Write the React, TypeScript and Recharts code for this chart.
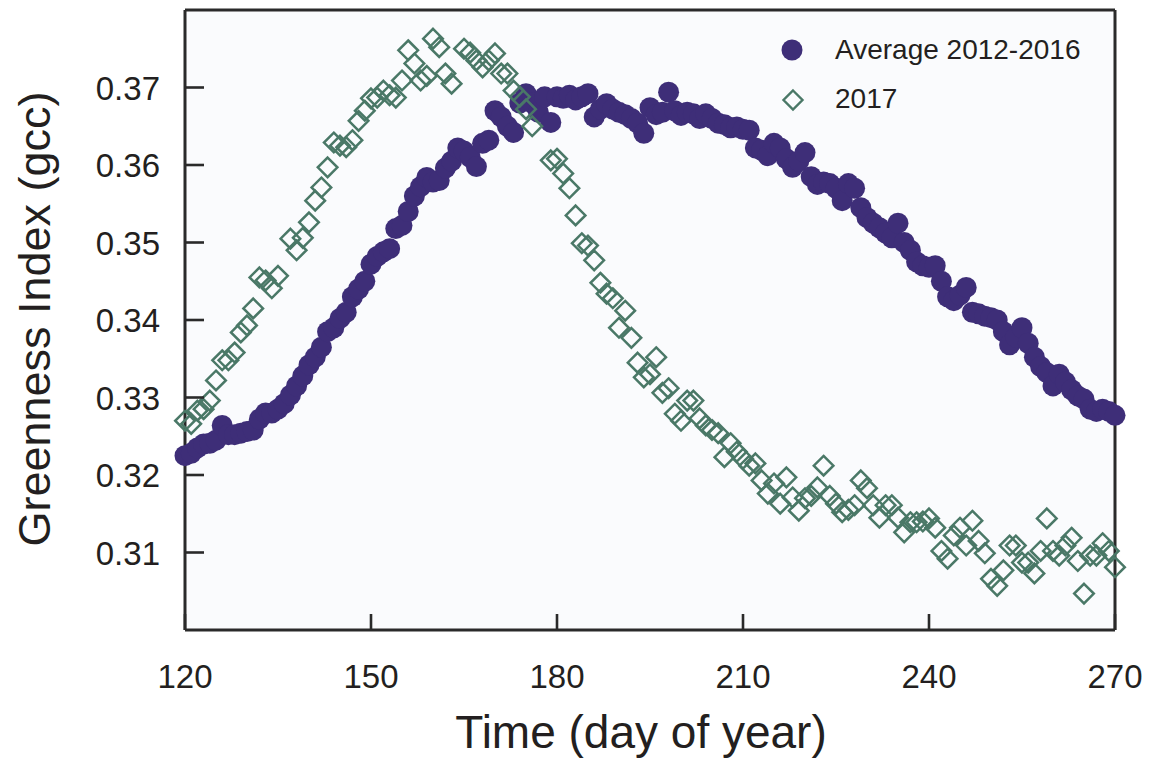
import React from 'react';
import { ScatterChart, Scatter, XAxis, YAxis, CartesianGrid } from 'recharts';

// Day of year for the 2012-2016 average series
const avgDays = [
  120, 121, 122, 123, 124, 125, 126, 127, 128, 129, 130, 131, 132, 133, 134, 135, 136, 137, 138, 139,
  140, 141, 142, 143, 144, 145, 146, 147, 148, 149, 150, 151, 152, 153, 154, 155, 156, 157, 158, 159,
  160, 161, 162, 163, 164, 165, 166, 167, 168, 169, 170, 171, 172, 173, 174, 175, 176, 177, 178, 179,
  180, 181, 182, 183, 184, 185, 186, 187, 188, 189, 190, 191, 192, 193, 194, 195, 196, 197, 198, 199,
  200, 201, 202, 203, 204, 205, 206, 207, 208, 209, 210, 211, 212, 213, 214, 215, 216, 217, 218, 219,
  220, 221, 222, 223, 224, 225, 226, 227, 228, 229, 230, 231, 232, 233, 234, 235, 236, 237, 238, 239,
  240, 241, 242, 243, 244, 245, 246, 247, 248, 249, 250, 251, 252, 253, 254, 255, 256, 257, 258, 259,
  260, 261, 262, 263, 264, 265, 266, 267, 268, 269, 270,
];

// Green chromatic coordinate, 2012-2016 average
const avgGcc = [
  0.3225, 0.3228, 0.3235, 0.324, 0.3241, 0.3245, 0.3264, 0.3252, 0.3252, 0.3254, 0.3256, 0.3258, 0.3272, 0.328, 0.328, 0.3285, 0.3292, 0.3303, 0.3315, 0.3328,
  0.3342, 0.3352, 0.3365, 0.3385, 0.339, 0.3402, 0.341, 0.343, 0.344, 0.345, 0.3472, 0.3482, 0.3488, 0.3492, 0.3518, 0.3522, 0.354, 0.356, 0.3572, 0.3584,
  0.3578, 0.358, 0.3596, 0.3605, 0.3622, 0.3618, 0.361, 0.3598, 0.3628, 0.3632, 0.367, 0.3662, 0.365, 0.3642, 0.368, 0.3692, 0.368, 0.3668, 0.3688, 0.3655,
  0.3688, 0.3686, 0.369, 0.3684, 0.3688, 0.3692, 0.3662, 0.3672, 0.3679, 0.3672, 0.3668, 0.3665, 0.366, 0.3654, 0.3641, 0.3674, 0.3665, 0.3668, 0.3694, 0.367,
  0.3664, 0.3668, 0.3666, 0.366, 0.3666, 0.366, 0.3654, 0.3652, 0.3648, 0.3649, 0.3646, 0.3645, 0.3622, 0.3619, 0.3612, 0.3628, 0.3622, 0.3608, 0.3597, 0.3605,
  0.3616, 0.3585, 0.3575, 0.3578, 0.3576, 0.357, 0.3554, 0.3576, 0.357, 0.3545, 0.3532, 0.3525, 0.3519, 0.3512, 0.3506, 0.3525, 0.35, 0.349, 0.3475, 0.347,
  0.3468, 0.347, 0.345, 0.343, 0.3425, 0.3432, 0.3442, 0.341, 0.3408, 0.3405, 0.3403, 0.34, 0.3385, 0.3368, 0.3378, 0.339, 0.337, 0.3352, 0.334, 0.3332,
  0.3315, 0.333, 0.332, 0.331, 0.3302, 0.3298, 0.3285, 0.3282, 0.3285, 0.3282, 0.3277,
];

// Day of year for 2017 observations
const days2017 = [
  120, 121, 122, 123, 124, 125, 126, 127, 128, 129, 130, 131, 132, 133, 134, 135, 137, 138, 139,
  140, 141, 142, 143, 144, 145, 146, 147, 148, 149, 150, 151, 152, 153, 154, 155, 156, 157, 158, 159,
  160, 161, 162, 163, 165, 166, 167, 168, 169, 170, 171, 172, 173, 174, 175, 176, 179,
  180, 181, 182, 183, 184, 185, 186, 187, 188, 189, 190, 191, 192, 193, 194, 195, 196, 197, 198, 199,
  200, 201, 202, 203, 204, 205, 206, 207, 208, 209, 210, 211, 212, 213, 214, 215, 216, 217, 218, 219,
  220, 221, 222, 223, 224, 225, 226, 227, 228, 229, 230, 231, 232, 233, 234, 235, 236, 237, 238, 239,
  240, 241, 242, 243, 244, 245, 246, 247, 248, 249, 250, 251, 252, 253, 254, 255, 256, 257, 258, 259,
  260, 261, 262, 263, 264, 265, 266, 267, 268, 269, 270,
];

// Green chromatic coordinate, 2017
const gcc2017 = [
  0.327, 0.3266, 0.3283, 0.3285, 0.3296, 0.3322, 0.3348, 0.3348, 0.3358, 0.3384, 0.3393, 0.3415, 0.3455, 0.3451, 0.3441, 0.3457, 0.3505, 0.349, 0.3506,
  0.3526, 0.3554, 0.3571, 0.3597, 0.3629, 0.3625, 0.3623, 0.3632, 0.3657, 0.367, 0.3686, 0.3687, 0.3696, 0.369, 0.3687, 0.3709, 0.3748, 0.3731, 0.3709, 0.3715,
  0.3763, 0.3752, 0.3718, 0.3705, 0.375, 0.3745, 0.3735, 0.3726, 0.3735, 0.3744, 0.3718, 0.3718, 0.3696, 0.3688, 0.3672, 0.365, 0.3606,
  0.3608, 0.3589, 0.357, 0.3535, 0.3499, 0.3496, 0.3477, 0.3448, 0.3434, 0.3428, 0.339, 0.3412, 0.3377, 0.3345, 0.3326, 0.333, 0.3352, 0.3306, 0.3312, 0.3279,
  0.327, 0.3296, 0.3296, 0.3273, 0.3264, 0.3258, 0.3254, 0.3223, 0.3241, 0.323, 0.3221, 0.3212, 0.3215, 0.3193, 0.3176, 0.3189, 0.3163, 0.3197, 0.3171, 0.3154,
  0.317, 0.3173, 0.3184, 0.3212, 0.3173, 0.3163, 0.3152, 0.3155, 0.3161, 0.3193, 0.3183, 0.3161, 0.3145, 0.3161, 0.3161, 0.3145, 0.3126, 0.3139, 0.3139, 0.314,
  0.3144, 0.3132, 0.3102, 0.3092, 0.3122, 0.3132, 0.3109, 0.3141, 0.3115, 0.3099, 0.3066, 0.3057, 0.3077, 0.3109, 0.3109, 0.3087, 0.3087, 0.3073, 0.3102, 0.3144,
  0.3102, 0.3096, 0.3109, 0.3119, 0.3089, 0.3047, 0.3096, 0.3096, 0.3112, 0.3102, 0.3081,
];

const xTicks = [120, 150, 180, 210, 240, 270];
const yTicks = [0.31, 0.32, 0.33, 0.34, 0.35, 0.36, 0.37];

const seriesNames = ['Average 2012-2016', '2017'];

const AVG_COLOR = '#3e2e78';
const Y2017_COLOR = '#4a7867';
const AXIS_COLOR = '#2a2a2a';
const TEXT_COLOR = '#231f20';
const FONT = '"Liberation Sans", Arial, Helvetica, sans-serif';

const avgData = avgDays.map((d, i) => ({ day: d, gcc: avgGcc[i] }));
const data2017 = days2017.map((d, i) => ({ day: d, gcc: gcc2017[i] }));

const W = 1145;
const H = 751;

const DotShape = (p: any) => <circle cx={p.cx} cy={p.cy} r={10.5} fill={AVG_COLOR} />;

const DiamondShape = (p: any) => {
  const r = 9.8;
  const { cx, cy } = p;
  return (
    <path
      d={`M${cx},${cy - r}L${cx + r},${cy}L${cx},${cy + r}L${cx - r},${cy}Z`}
      fill="none"
      stroke={Y2017_COLOR}
      strokeWidth={2.5}
    />
  );
};

const BottomTick = (p: any) => (
  <g>
    <line x1={p.x} y1={p.y} x2={p.x} y2={p.y - 16} stroke={AXIS_COLOR} strokeWidth={2.6} />
    <text x={p.x} y={p.y + 58} textAnchor="middle" fontSize={33} fontFamily={FONT} fill={TEXT_COLOR}>
      {p.payload.value}
    </text>
  </g>
);

const TopTick = (p: any) => (
  <line x1={p.x} y1={p.y} x2={p.x} y2={p.y + 17} stroke={AXIS_COLOR} strokeWidth={2.6} />
);

const LeftTick = (p: any) => (
  <g>
    <line x1={p.x} y1={p.y} x2={p.x + 19} y2={p.y} stroke={AXIS_COLOR} strokeWidth={2.6} />
    <text x={p.x - 25} y={p.y + 12} textAnchor="end" fontSize={33} fontFamily={FONT} fill={TEXT_COLOR}>
      {Number(p.payload.value).toFixed(2)}
    </text>
  </g>
);

const RightTick = (p: any) => (
  <line x1={p.x} y1={p.y} x2={p.x - 19} y2={p.y} stroke={AXIS_COLOR} strokeWidth={2.6} />
);

const XTitle = (p: any) => {
  const vb = p.viewBox || { x: 177, y: 622, width: 930, height: 129 };
  return (
    <text x={vb.x + vb.width / 2 - 9} y={vb.y + 118} textAnchor="middle" fontSize={46} fontFamily={FONT} fill={TEXT_COLOR}>
      Time (day of year)
    </text>
  );
};

const YTitle = (p: any) => {
  const vb = p.viewBox || { x: 0, y: 2, width: 177, height: 620 };
  const x = vb.x + 42;
  const y = vb.y + vb.height / 2 - 1;
  return (
    <text x={x} y={y} transform={`rotate(-90, ${x}, ${y})`} textAnchor="middle" fontSize={45} fontFamily={FONT} fill={TEXT_COLOR}>
      Greenness Index (gcc)
    </text>
  );
};

const axisLine = { stroke: AXIS_COLOR, strokeWidth: 3 };

export default function App() {
  return (
    <div style={{ position: 'relative', width: W, height: H, background: '#ffffff' }}>
      <ScatterChart width={W} height={H} margin={{ top: 0, right: 36, bottom: 0, left: 0 }}>
        <CartesianGrid horizontal={false} vertical={false} fill="#fafbfd" fillOpacity={1} />
        <XAxis
          type="number"
          dataKey="day"
          domain={[120, 270]}
          ticks={xTicks}
          height={129}
          axisLine={axisLine}
          tickLine={false}
          tickSize={0}
          tickMargin={0}
          tick={(p: any) => <BottomTick {...p} />}
          label={<XTitle />}
        />
        <XAxis
          xAxisId="top"
          orientation="top"
          type="number"
          domain={[120, 270]}
          ticks={xTicks}
          height={2}
          axisLine={axisLine}
          tickLine={false}
          tickSize={0}
          tickMargin={0}
          tick={(p: any) => <TopTick {...p} />}
        />
        <YAxis
          type="number"
          dataKey="gcc"
          domain={[0.3, 0.38]}
          ticks={yTicks}
          width={177}
          axisLine={axisLine}
          tickLine={false}
          tickSize={0}
          tickMargin={0}
          tick={(p: any) => <LeftTick {...p} />}
          label={<YTitle />}
        />
        <YAxis
          yAxisId="right"
          orientation="right"
          type="number"
          domain={[0.3, 0.38]}
          ticks={yTicks}
          width={2}
          axisLine={axisLine}
          tickLine={false}
          tickSize={0}
          tickMargin={0}
          tick={(p: any) => <RightTick {...p} />}
        />
        <Scatter name={seriesNames[0]} data={avgData} shape={DotShape} isAnimationActive={false} />
        <Scatter name={seriesNames[1]} data={data2017} shape={DiamondShape} isAnimationActive={false} />
      </ScatterChart>
      <svg width={W} height={H} style={{ position: 'absolute', left: 0, top: 0, pointerEvents: 'none' }}>
        <circle cx={784} cy={42} r={10.5} fill={AVG_COLOR} />
        <text x={827} y={51} fontSize={28} fontFamily={FONT} fill={TEXT_COLOR}>
          {seriesNames[0]}
        </text>
        <path d="M785,82.5L794.5,92L785,101.5L775.5,92Z" fill="none" stroke={Y2017_COLOR} strokeWidth={2.4} />
        <text x={827} y={100} fontSize={28} fontFamily={FONT} fill={TEXT_COLOR}>
          {seriesNames[1]}
        </text>
      </svg>
    </div>
  );
}
